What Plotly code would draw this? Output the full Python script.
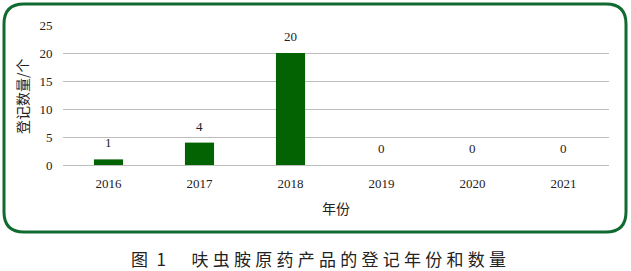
import plotly.graph_objects as go

years = ["2016", "2017", "2018", "2019", "2020", "2021"]
counts = [1, 4, 20, 0, 0, 0]
y_ticks = [0, 5, 10, 15, 20, 25]

W, H = 631, 271
L, R, T, B = 63, 22, 25, 106
pw, ph = W - L - R, H - T - B

def pxf(x):
    return (x - L) / pw

def pyf(y):
    return (H - B - y) / ph

serif = "Liberation Serif, Times New Roman, serif"
cjk = "Noto Sans CJK SC, sans-serif"

fig = go.Figure()
fig.add_trace(go.Bar(x=years, y=counts, marker=dict(color="#036303", line=dict(width=0)),
                     width=0.32))

fig.update_layout(
    width=W, height=H, margin=dict(l=L, r=R, t=T, b=B),
    paper_bgcolor="white", plot_bgcolor="white", showlegend=False,
    xaxis=dict(type="category", categoryarray=years, range=[-0.5, len(years) - 0.5],
               showgrid=False, showline=False, ticks="outside",
               ticklen=6, tickcolor="rgba(0,0,0,0)",
               tickfont=dict(family=serif, size=13, color="#222")),
    yaxis=dict(range=[0, 25], tickvals=y_ticks, showgrid=True, gridcolor="#bdbdbd",
               gridwidth=1, zeroline=True, zerolinecolor="#bdbdbd", zerolinewidth=1,
               showline=False, ticks="outside", ticklen=7, tickcolor="rgba(0,0,0,0)",
               tickfont=dict(family=serif, size=13, color="#222")),
)

# value labels above bars (category index on the category axis)
for i, c in enumerate(counts):
    fig.add_annotation(x=i, y=c, xref="x", yref="y", text=str(c), showarrow=False,
                       xanchor="center", yanchor="bottom", yshift=7,
                       font=dict(family=serif, size=13, color="#222"))

# rounded frame around the chart
x0, x1, y0, y1, r = 4, 626, 4, 232, 20
path = (f"M {pxf(x0+r):.5f} {pyf(y0):.5f} L {pxf(x1-r):.5f} {pyf(y0):.5f} "
        f"Q {pxf(x1):.5f} {pyf(y0):.5f} {pxf(x1):.5f} {pyf(y0+r):.5f} "
        f"L {pxf(x1):.5f} {pyf(y1-r):.5f} Q {pxf(x1):.5f} {pyf(y1):.5f} {pxf(x1-r):.5f} {pyf(y1):.5f} "
        f"L {pxf(x0+r):.5f} {pyf(y1):.5f} Q {pxf(x0):.5f} {pyf(y1):.5f} {pxf(x0):.5f} {pyf(y1-r):.5f} "
        f"L {pxf(x0):.5f} {pyf(y0+r):.5f} Q {pxf(x0):.5f} {pyf(y0):.5f} {pxf(x0+r):.5f} {pyf(y0):.5f} Z")
fig.add_shape(type="path", path=path, xref="paper", yref="paper",
              line=dict(color="#106b30", width=3))

def note(x, y, text, size, family, angle=0):
    fig.add_annotation(x=pxf(x), y=pyf(y), xref="paper", yref="paper", text=text,
                       xanchor="center", yanchor="middle", textangle=angle,
                       showarrow=False, font=dict(family=family, size=size, color="#222"))

note(336, 208, "年份", 14, cjk)
note(22, 96, "登记数量/个", 14, cjk, -90)
sp = "\u2005"
cap = "图" + "\u2002" + "1" + "\u2003" + "\u2002" + sp.join("呋虫胺原药产品的登记年份和数量")
note(318, 258, cap, 17, cjk)

fig.write_html("out.html")
